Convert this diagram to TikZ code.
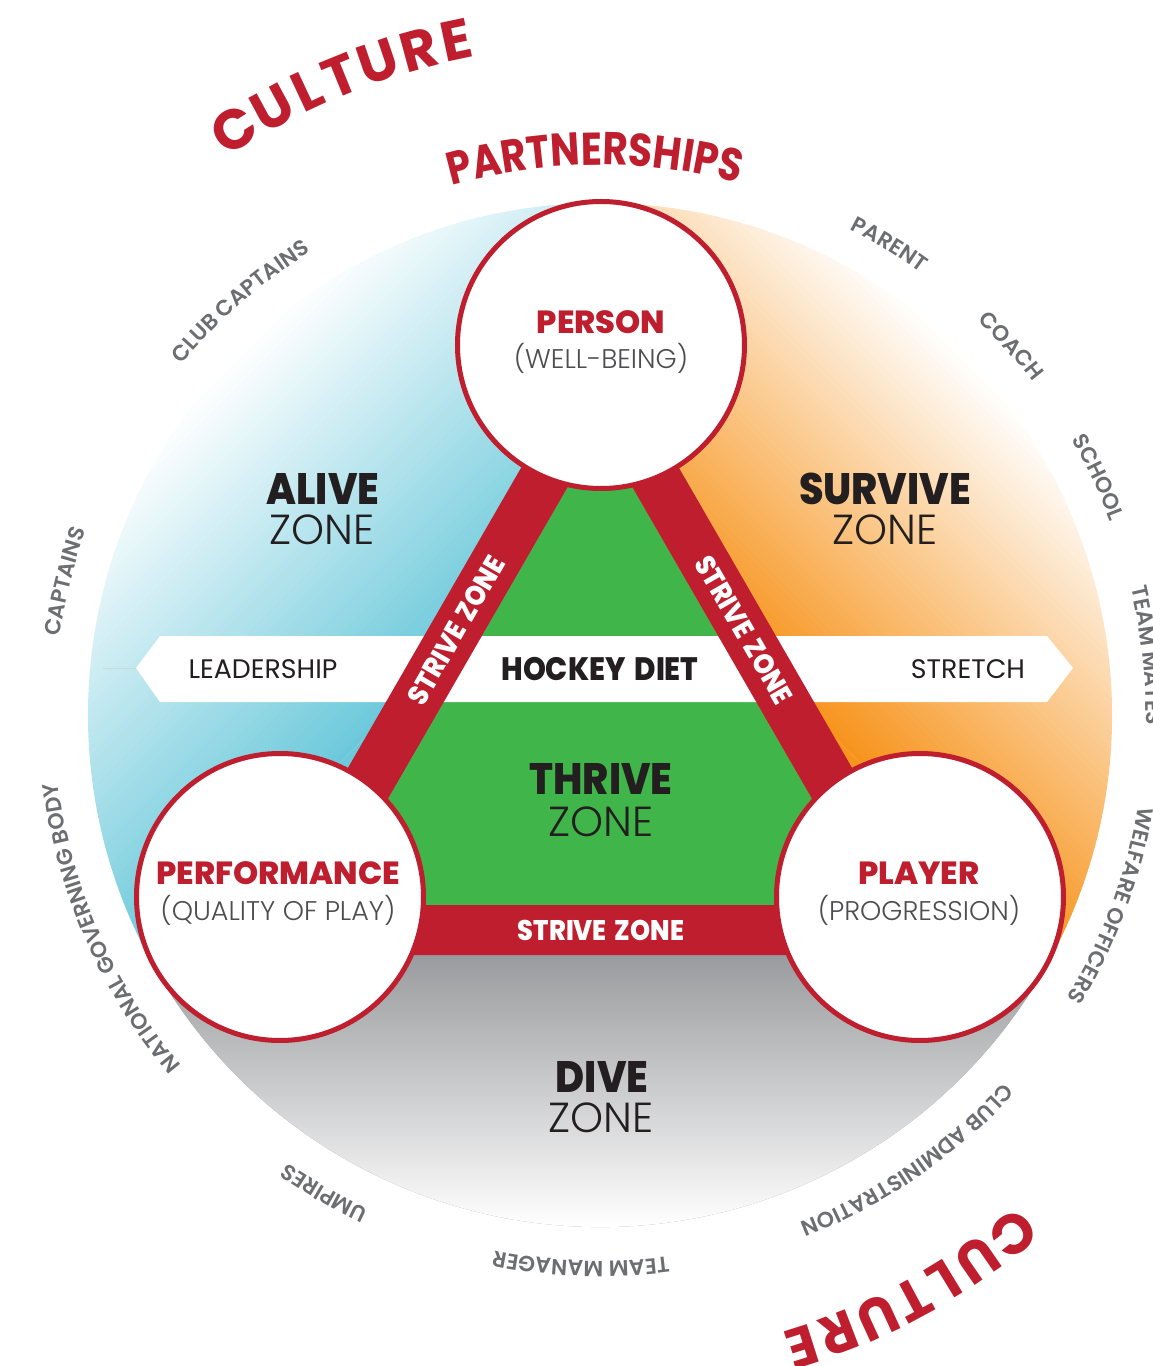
\documentclass[tikz,border=0pt]{standalone}
\usepackage{fontspec}
\setmainfont{Poppins}
\newfontfamily\lightfont{Poppins Light}
\newfontfamily\mediumfont{Poppins SemiBold}
\newfontfamily\titlefont{Poppins ExtraBold}
\newfontfamily\blackfont{Poppins ExtraBold}[FakeStretch=0.9, WordSpace=1.6]
\newfontfamily\heavyfont{Poppins}[FakeStretch=0.85]
\usetikzlibrary{decorations.text}

\definecolor{strivered}{HTML}{BE1E2D}
\definecolor{thrivegreen}{HTML}{40B54A}
\definecolor{alivecyan}{HTML}{6CC9DB}
\definecolor{surviveorange}{HTML}{F7941D}
\definecolor{divegray}{HTML}{9A9B9E}
\definecolor{darktext}{HTML}{231F20}
\definecolor{subgray}{HTML}{4D4D4F}
\definecolor{labelgray}{HTML}{6D6E71}

\tikzset{
	bubble/.style={circle, draw=strivered, line width=2.5pt, fill=white, minimum size=143.5pt, inner sep=0pt},
	zonename/.style={text=darktext, font=\blackfont\fontsize{22}{25}\selectfont, inner sep=0pt},
	zoneword/.style={text=darktext, font=\lightfont\fontsize{21}{23}\selectfont, inner sep=0pt},
	bubbletitle/.style={text=strivered, font=\titlefont\fontsize{16}{18}\selectfont, inner sep=0pt},
	bubblesub/.style={text=subgray, font=\lightfont\fontsize{13.5}{15}\selectfont, inner sep=0pt},
	bandtext/.style={text=darktext, font=\fontsize{13.4}{15}\selectfont, inner sep=0pt},
	bandbold/.style={text=darktext, font=\blackfont\fontsize{16.2}{18}\selectfont, inner sep=0pt},
	strivetext/.style={text=white, font=\blackfont\fontsize{14.2}{16}\selectfont, inner sep=0pt},
	cultureletter/.style={text=strivered, font=\bfseries\fontsize{28}{30}\selectfont, inner sep=0pt},
	ringlabel/.style={decorate, decoration={text along path, text align=center, text color=labelgray,
		text={|\mediumfont\fontsize{11}{12}\selectfont|#1}}},
	archlabel/.style={decorate, decoration={text along path, text align=center, text color=strivered,
		text={|\heavyfont\bfseries\fontsize{23}{25}\selectfont|#1}}}
}

\begin{document}
\begin{tikzpicture}[x=0.5pt,y=0.5pt]
	\useasboundingbox (-600,-651) rectangle (552,715);
	\clip (-600,-651) rectangle (552,715);

	\begin{scope}
		\clip (0,0) -- (90:512) arc[start angle=90, end angle=210, radius=512] -- cycle;
		\fill[alivecyan, rotate=135] (-600,-600) rectangle (150,600);
		\foreach \k [evaluate=\k as \p using 100-\k*1.69] in {0,...,59}
			\fill[alivecyan!\p!white, rotate=135] ({150+\k*6.05},-600) rectangle ({150+(\k+1)*6.05+0.5},600);
	\end{scope}
	\begin{scope}
		\clip (0,0) -- (-30:512) arc[start angle=-30, end angle=90, radius=512] -- cycle;
		\fill[surviveorange, rotate=45] (-600,-600) rectangle (150,600);
		\foreach \k [evaluate=\k as \p using 100-\k*1.69] in {0,...,59}
			\fill[surviveorange!\p!white, rotate=45] ({150+\k*6.05},-600) rectangle ({150+(\k+1)*6.05+0.5},600);
	\end{scope}
	\fill[divegray] (0,0) -- (210:512) arc[start angle=210, end angle=330, radius=512] -- cycle;
	\begin{scope}
		\clip (0,0) -- (210:512) arc[start angle=210, end angle=330, radius=512] -- cycle;
		\shade[top color=divegray, bottom color=white] (-512,-240) rectangle (512,-512);
	\end{scope}

	\coordinate (a1) at (0,384);
	\coordinate (a2) at (-360,-240);
	\coordinate (a3) at (360,-240);
	\coordinate (b1) at (0,284);
	\coordinate (b2) at (-273.3,-190);
	\coordinate (b3) at (273.3,-190);
	\fill[thrivegreen] (b1) -- (b2) -- (b3) -- cycle;

	\coordinate (lt) at (-464,47);
	\coordinate (lu) at (-440,79);
	\coordinate (ld) at (-440,13);
	\coordinate (rt) at (473,47);
	\coordinate (ru) at (447,79);
	\coordinate (rd) at (447,13);
	\coordinate (lead) at (-497,47);
	\fill[white] (lt) -- (lu) -- (ru) -- (rt) -- (rd) -- (ld) -- cycle;
	\draw[line width=0.5pt, alivecyan!40!gray!40] (lead) -- (lt);

	\fill[strivered, even odd rule] (a1) -- (a2) -- (a3) -- cycle (b1) -- (b2) -- (b3) -- cycle;

	\node[bubble] (person) at (1,370) {};
	\node[bubble] (performance) at (-320,-182) {};
	\node[bubble] (player) at (320,-182) {};

	\node[bubbletitle] (persontitle) at (1,393) {PERSON};
	\node[bubblesub] (personsub) at (1,357) {(WELL-BEING)};
	\node[bubbletitle] (perftitle) at (-322,-158) {PERFORMANCE};
	\node[bubblesub] (perfsub) at (-322,-195) {(QUALITY OF PLAY)};
	\node[bubbletitle] (playertitle) at (319,-158) {PLAYER};
	\node[bubblesub] (playersub) at (319,-195) {(PROGRESSION)};

	\node[zonename] (alive) at (-277,226) {ALIVE};
	\node[zoneword] (alivezone) at (-278,185) {ZONE};
	\node[zonename] (survive) at (285,226) {SURVIVE};
	\node[zoneword] (survivezone) at (285,185) {ZONE};
	\node[zonename] (thrive) at (1,-64) {THRIVE};
	\node[zoneword] (thrivezone) at (1,-107) {ZONE};
	\node[zonename] (dive) at (2,-362) {DIVE};
	\node[zoneword] (divezone) at (1,-403) {ZONE};

	\node[bandbold] (diet) at (0,46) {HOCKEY DIET};
	\node[bandtext] (leadership) at (-337,46) {LEADERSHIP};
	\node[bandtext] (stretch) at (368,46) {STRETCH};

	\node[strivetext] (strivebottom) at (1,-215) {STRIVE ZONE};
	\node[strivetext, rotate=60] (striveleft) at (-144,85) {STRIVE ZONE};
	\node[strivetext, rotate=-60] (striveright) at (144,85) {STRIVE ZONE};

	\path[archlabel=PARTNERSHIPS] (130.5:550) arc[start angle=130.5, end angle=50.5, radius=550];

	\foreach \ch/\a [count=\i] in {C/122, U/118.36, L/115.12, T/112.13, U/108.76, R/105.24, E/102.01}
		\node[cultureletter, rotate=\a-90] (ct\i) at (\a:690) {\ch};
	\foreach \ch/\a [count=\i] in {C/-51.5, U/-55.29, L/-58.66, T/-61.78, U/-65.28, R/-68.94, E/-72.3}
		\node[cultureletter, rotate=\a-90] (cb\i) at (\a:663) {\ch};

	\path[ringlabel=CLUB CAPTAINS] (171:546) arc[start angle=171, end angle=91, radius=546];
	\path[ringlabel=PARENT] (98.4:546) arc[start angle=98.4, end angle=18.4, radius=546];
	\path[ringlabel=COACH] (81.9:546) arc[start angle=81.9, end angle=1.9, radius=546];
	\path[ringlabel=SCHOOL] (65.5:546) arc[start angle=65.5, end angle=-14.5, radius=546];
	\path[ringlabel=TEAM MATES] (46.2:546) arc[start angle=46.2, end angle=-33.8, radius=546];
	\path[ringlabel=WELFARE OFFICERS] (19.6:546) arc[start angle=19.6, end angle=-60.4, radius=546];
	\path[ringlabel=CLUB ADMINISTRATION] (-15.4:546) arc[start angle=-15.4, end angle=-95.4, radius=546];
	\path[ringlabel=TEAM MANAGER] (-52:546) arc[start angle=-52, end angle=-132, radius=546];
	\path[ringlabel=UMPIRES] (-80:546) arc[start angle=-80, end angle=-160, radius=546];
	\path[ringlabel=NATIONAL GOVERNING BODY] (243.5:546) arc[start angle=243.5, end angle=163.5, radius=546];
	\path[ringlabel=CAPTAINS] (206:546) arc[start angle=206, end angle=126, radius=546];
\end{tikzpicture}
\end{document}
